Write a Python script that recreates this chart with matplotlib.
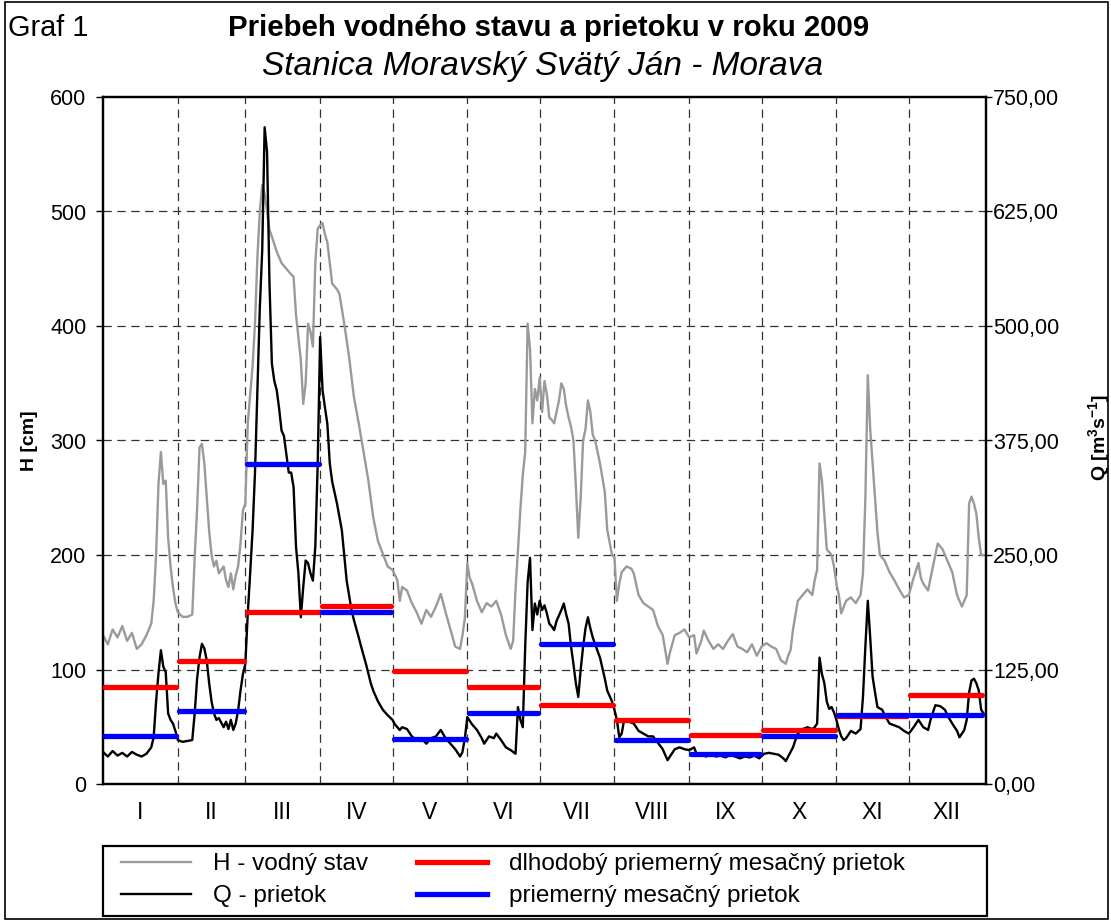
import matplotlib
matplotlib.use("Agg")
import matplotlib.pyplot as plt
from matplotlib.lines import Line2D
from matplotlib.patches import Rectangle

# ---------------- data ----------------
months = ["I", "II", "III", "IV", "V", "VI", "VII", "VIII", "IX", "X", "XI", "XII"]
month_days = [31, 28, 31, 30, 31, 30, 31, 31, 30, 31, 30, 31]

# long-term mean monthly discharge [m3/s]
q_longterm = [105.5, 134, 188, 194, 123, 106, 86.6, 69.5, 54, 58.5, 74, 97.5]
# mean monthly discharge 2009 [m3/s]
q_monthly = [52, 80, 349, 188, 49.5, 78, 153, 47.6, 33, 52, 75.7, 75.7]

# water stage H [cm] (day of year, value)
h_day = [0, 2, 4, 6, 8, 10, 12, 14, 16, 18, 20, 21, 22, 23, 24, 25, 26, 27, 28, 29,
         30, 31, 33, 35, 37, 38, 39, 40, 41, 42, 43, 44, 45, 46, 47, 48, 50, 51, 52, 53,
         54, 55, 56, 57, 58, 59, 60, 61, 62, 63, 64, 65, 66, 67, 68, 69, 70, 72, 74, 76,
         78, 79, 80, 81, 82, 83, 84, 85, 86, 87, 88, 89, 90, 91, 92, 93, 95, 97, 98, 100,
         102, 104, 106, 108, 110, 112, 114, 116, 118, 120, 122, 123, 124, 126, 128, 130,
         132, 134, 136, 138, 140, 142, 144, 146, 148, 149, 150, 151, 152, 153, 155, 157,
         159, 161, 163, 165, 167, 169, 170, 171, 172, 173, 174, 175, 176, 177, 178, 179,
         180, 181, 182, 183, 184, 185, 186, 187, 188, 189, 190, 191, 192, 193, 194, 195,
         196, 197, 198, 199, 200, 201, 202, 203, 204, 206, 208, 209, 211, 212, 213, 214,
         215, 217, 219, 220, 222, 224, 226, 228, 230, 232, 234, 235, 237, 239, 241, 243,
         245, 246, 248, 249, 251, 253, 255, 257, 259, 261, 263, 265, 267, 269, 271, 273,
         275, 277, 279, 281, 283, 284, 285, 286, 288, 290, 292, 294, 295, 296, 297, 298,
         299, 300, 302, 303, 304, 305, 306, 308, 310, 312, 314, 315, 316, 317, 318, 319,
         320, 321, 322, 324, 326, 328, 330, 332, 334, 336, 338, 339, 340, 342, 344, 346,
         348, 350, 352, 354, 356, 358, 359, 360, 361, 362, 363, 364, 365]
h_val = [130, 122, 135, 128, 138, 125, 132, 118, 122, 130, 140, 160, 200, 262, 290, 262, 265, 215, 190, 172,
         158, 150, 146, 146, 148, 198, 240, 294, 297, 280, 250, 221, 200, 190, 195, 184, 190, 178, 172, 184,
         170, 182, 190, 210, 239, 245, 315, 340, 365, 402, 460, 500, 523, 515, 500, 484, 478, 465, 455, 450,
         445, 443, 410, 390, 370, 332, 350, 402, 395, 382, 455, 485, 488, 490, 480, 473, 437, 432, 428, 402,
         373, 338, 315, 290, 265, 233, 212, 201, 190, 187, 178, 160, 172, 169, 158, 150,
         140, 152, 146, 155, 166, 150, 135, 120, 118, 130, 145, 193, 180, 175, 160, 150,
         158, 155, 160, 148, 130, 118, 125, 170, 204, 240, 270, 290, 402, 380, 315, 345,
         335, 355, 325, 352, 340, 320, 318, 315, 325, 335, 350, 345, 330, 320, 312, 300,
         260, 215, 250, 300, 310, 335, 325, 305, 300, 280, 255, 222, 200, 198, 160, 175,
         185, 190, 188, 184, 165, 158, 155, 152, 138, 130, 105, 115, 130, 132, 135, 128,
         130, 114, 125, 134, 125, 118, 122, 118, 125, 131, 120, 118, 115, 122, 112, 120,
         123, 120, 118, 108, 105, 112, 117, 135, 160, 165, 170, 165, 178, 187, 280, 265,
         235, 205, 200, 190, 175, 165, 149, 160, 163, 158, 165, 184, 250, 357, 310, 280,
         250, 220, 200, 195, 185, 178, 170, 163, 165, 180, 193, 180, 175, 169, 190, 210,
         205, 195, 185, 165, 155, 165, 245, 251, 245, 236, 215, 200, 200]

# discharge Q [m3/s] (day of year, value)
q_day = [0, 2, 4, 6, 8, 10, 12, 14, 16, 18, 20, 21, 22, 23, 24, 25, 26, 27, 28, 29,
         30, 31, 33, 35, 37, 38, 39, 40, 41, 42, 43, 44, 45, 46, 47, 48, 50, 51, 52, 53,
         54, 55, 56, 57, 58, 59, 60, 61, 62, 63, 64, 65, 66, 67, 68, 69, 70, 71, 72, 73,
         74, 75, 76, 77, 78, 79, 80, 81, 82, 83, 84, 85, 86, 87, 88, 89, 90, 91, 92, 93,
         94, 95, 97, 99, 101, 103, 104, 106, 107, 109, 111, 112, 114, 116, 118, 120, 121,
         123, 124, 126, 128, 130, 132, 134, 136, 138, 140, 142, 144, 146, 148, 149, 150,
         151, 153, 155, 157, 158, 160, 162, 163, 165, 167, 169, 171, 172, 173, 174, 175,
         176, 177, 178, 179, 180, 181, 182, 183, 184, 185, 186, 187, 188, 190, 191, 192,
         193, 194, 195, 196, 197, 198, 199, 200, 201, 202, 203, 205, 206, 208, 209, 211,
         212, 213, 214, 215, 216, 218, 220, 222, 224, 226, 228, 230, 232, 234, 235, 237,
         239, 241, 243, 245, 246, 248, 250, 252, 254, 256, 258, 260, 262, 264, 266, 268,
         270, 272, 274, 276, 278, 280, 282, 283, 284, 286, 287, 288, 290, 292, 294, 295,
         296, 297, 298, 299, 300, 301, 302, 303, 304, 305, 306, 307, 308, 310, 312, 314,
         315, 316, 317, 318, 319, 320, 321, 323, 324, 326, 328, 330, 332, 334, 336, 338,
         340, 342, 343, 345, 347, 349, 350, 352, 354, 355, 356, 357, 358, 359, 360, 361,
         362, 363, 364, 365]
q_val = [35, 30, 36, 31, 34, 30, 35, 32, 30, 33, 40, 51, 90, 121, 146, 128, 122, 77, 70, 66,
         58, 48, 46, 47, 48, 77, 115, 138, 153, 148, 135, 110, 90, 77, 70, 72, 62, 68, 60, 70,
         59, 66, 80, 102, 120, 131, 186, 230, 277, 340, 430, 520, 583, 717, 690, 547, 459, 440, 430, 410,
         386, 380, 360, 340, 340, 324, 259, 230, 182, 215, 244, 241, 230, 222, 259, 350, 488, 430, 411, 393,
         350, 330, 306, 277, 222, 190, 179, 160, 150, 131, 110, 102, 90, 81, 75, 70, 65,
         59, 62, 60, 52, 48, 50, 44, 50, 52, 59, 50, 44, 38, 30, 35, 50,
         73, 65, 59, 50, 44, 52, 50, 55, 48, 40, 37, 33, 84, 70, 62, 150,
         220, 247, 168, 197, 185, 200, 190, 195, 186, 175, 172, 168, 178, 190, 197, 185,
         175, 150, 131, 110, 95, 125, 150, 170, 182, 170, 160, 145, 138, 115, 102, 90,
         81, 70, 51, 55, 70, 68, 66, 58, 55, 52, 52, 45, 38, 26, 30, 38,
         40, 38, 37, 40, 33, 32, 30, 33, 30, 31, 29, 32, 30, 28, 30, 29,
         31, 28, 33, 34, 33, 32, 28, 25, 30, 40, 48, 55, 60, 62, 60, 62,
         66, 138, 120, 110, 90, 82, 84, 78, 70, 60, 52, 48, 50, 58, 55, 60,
         95, 150, 200, 160, 117, 100, 84, 81, 75, 66, 64, 62, 58, 55, 62, 70,
         62, 59, 70, 86, 85, 81, 75, 66, 58, 51, 55, 59, 70, 100, 113, 115,
         110, 102, 81, 77]

# ---------------- style ----------------
plt.rcParams["font.family"] = ["Liberation Sans", "DejaVu Sans"]
plt.rcParams["mathtext.fontset"] = "custom"
plt.rcParams["mathtext.rm"] = "Liberation Sans"
plt.rcParams["mathtext.bf"] = "Liberation Sans:bold"
plt.rcParams["mathtext.it"] = "Liberation Sans:italic"
plt.rcParams["lines.scale_dashes"] = False

W, H = 1111, 921
fig = plt.figure(figsize=(W / 100, H / 100), dpi=100)

def fx(px):
    return px / W

def fy(py):
    return 1 - py / H

left_px, right_px, top_px, bottom_px = 103, 986, 97, 784
ax = fig.add_axes([fx(left_px), fy(bottom_px), fx(right_px - left_px), (bottom_px - top_px) / H])
ax2 = ax.twinx()

# month boundaries
bounds = [0]
for d in month_days:
    bounds.append(bounds[-1] + d)
centers = [(bounds[i] + bounds[i + 1]) / 2 for i in range(12)]

ax.set_xlim(0, 366)
ax.set_ylim(0, 600)
ax2.set_ylim(0, 750)

grid_kw = dict(color="#333333", lw=0.9, ls=(0, (6, 4)), zorder=0)
for b in bounds[1:-1]:
    ax.axvline(b, **grid_kw)
for yv in [100, 200, 300, 400, 500]:
    ax.axhline(yv, **grid_kw)

# H line
ax.plot(h_day, h_val, color="#9a9a9a", lw=1.7, zorder=2)

# Q line + monthly means on twin axis
ax2.plot(q_day, q_val, color="black", lw=1.7, zorder=2)
for i in range(12):
    ax2.plot([bounds[i] + 0.6, bounds[i + 1] - 0.6], [q_longterm[i]] * 2, color="#ff0000",
             lw=3.8, solid_capstyle="round", zorder=3)
for i in range(12):
    ax2.plot([bounds[i] + 0.6, bounds[i + 1] - 0.6], [q_monthly[i]] * 2, color="#0000ff",
             lw=3.8, solid_capstyle="round", zorder=4)

# ticks
ax.set_yticks([0, 100, 200, 300, 400, 500, 600])
ax.set_yticklabels([str(v) for v in [0, 100, 200, 300, 400, 500, 600]])
q_ticks = [0, 125, 250, 375, 500, 625, 750]
ax2.set_yticks(q_ticks)
ax2.set_yticklabels([f"{v:.2f}".replace(".", ",") for v in q_ticks])
ax.set_xticks(centers)
ax.set_xticklabels(months)
ax.tick_params(axis="x", length=0, pad=12, labelsize=16.5)
ax.tick_params(axis="y", direction="out", length=5, width=1, pad=7, labelsize=15.5)
ax2.tick_params(axis="y", direction="out", length=4, width=1, pad=1, labelsize=15.5)

for a in (ax, ax2):
    for s in a.spines.values():
        s.set_linewidth(1.6)
        s.set_color("black")

# texts
fig.text(fx(8), fy(28), "Graf 1", fontsize=20.8, ha="left", va="center")
fig.text(fx(549), fy(28), "Priebeh vodného stavu a prietoku v roku 2009", fontsize=21.2,
         fontweight="bold", ha="center", va="center")
fig.text(fx(543), fy(67), "Stanica Moravský Svätý Ján - Morava", fontsize=24,
         style="italic", ha="center", va="center")
fig.text(fx(30), fy(441), "H [cm]", fontsize=14, fontweight="bold", rotation=90,
         ha="center", va="center")
fig.text(fx(1099), fy(437), r"$\mathbf{Q\ [m^3s^{-1}]}$", fontsize=14, rotation=90,
         ha="center", va="center")

# legend box
fig.patches.append(Rectangle((fx(103), fy(916)), fx(987 - 103), (916 - 846) / H,
                             transform=fig.transFigure, fill=False, lw=1.6,
                             edgecolor="black", zorder=5))
handles = [
    Line2D([], [], color="#9a9a9a", lw=1.7),
    Line2D([], [], color="black", lw=1.7),
    Line2D([], [], color="#ff0000", lw=3.8),
    Line2D([], [], color="#0000ff", lw=3.8),
]
labels = ["H - vodný stav", "Q - prietok", "dlhodobý priemerný mesačný prietok",
          "priemerný mesačný prietok"]
fig.legend(handles, labels, ncol=2, loc="upper left", bbox_to_anchor=(fx(121), fy(853)),
           frameon=False, fontsize=17.5, handlelength=2.9, handletextpad=0.9,
           columnspacing=2.0, labelspacing=0.42, borderpad=0, borderaxespad=0)

# outer border
fig.patches.append(Rectangle((fx(5), fy(919)), fx(1108 - 5), (919 - 2) / H,
                             transform=fig.transFigure, fill=False, lw=1.2,
                             edgecolor="black"))

fig.savefig("out.png", dpi=100)
